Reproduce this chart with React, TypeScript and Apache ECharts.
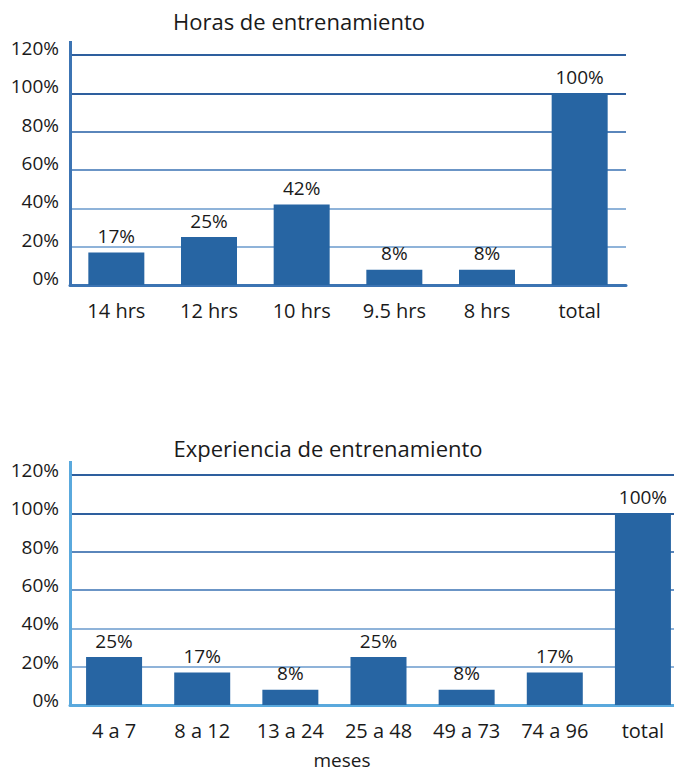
import React, { useEffect, useRef } from "react";
import * as echarts from "echarts";

const hoursTitle = "Horas de entrenamiento";
const hoursCategories = ["14 hrs", "12 hrs", "10 hrs", "9.5 hrs", "8 hrs", "total"];
const hoursValues = [17, 25, 42, 8, 8, 100];

const experienceTitle = "Experiencia de entrenamiento";
const experienceCategories = ["4 a 7", "8 a 12", "13 a 24", "25 a 48", "49 a 73", "74 a 96", "total"];
const experienceValues = [25, 17, 8, 25, 8, 17, 100];
const experienceAxisName = "meses";

const yMin = 0;
const yMax = 120;
const yInterval = 20;

const FONT = "Open Sans";
const TEXT = "#1a1a1a";
const BAR = "#2765a3";
const GRID_COLORS = ["#8fb3d9", "#8fb3d9", "#8fb3d9", "#6b95c6", "#5a86bb", "#2e5f9e", "#2e5f9e"];

export default function App() {
  const ref = useRef<HTMLDivElement>(null);

  useEffect(() => {
    if (!ref.current) return;
    const chart = echarts.init(ref.current, null, { renderer: "svg" });

    const yAxisCommon = (axisColor: string, shiftUp: number) => ({
      type: "value",
      min: yMin,
      max: yMax,
      interval: yInterval,
      axisLine: { show: true, lineStyle: { color: axisColor, width: 3 } },
      axisTick: { show: false },
      axisLabel: {
        formatter: "{value}%",
        fontFamily: FONT,
        fontSize: 19,
        color: TEXT,
        margin: 11,
        verticalAlign: "bottom",
        lineHeight: shiftUp * 2,
      },
      splitLine: { show: true, lineStyle: { color: GRID_COLORS, width: 2 } },
    });

    const barLabel = {
      show: true,
      position: "top",
      distance: 7,
      formatter: "{c}%",
      fontFamily: FONT,
      fontSize: 19,
      color: TEXT,
    };

    chart.setOption({
      animation: false,
      textStyle: { fontFamily: FONT },
      title: [
        {
          text: hoursTitle,
          left: 294,
          top: 5,
          textAlign: "center",
          textStyle: { fontFamily: FONT, fontSize: 22, fontWeight: "normal", color: TEXT },
        },
        {
          text: experienceTitle,
          left: 323,
          top: 432,
          textAlign: "center",
          textStyle: { fontFamily: FONT, fontSize: 22, fontWeight: "normal", color: TEXT },
        },
      ],
      grid: [
        { left: 70, width: 556, top: 55, height: 230, outerBoundsMode: "none" },
        { left: 70, width: 617, top: 475, height: 230, outerBoundsMode: "none" },
      ],
      xAxis: [
        {
          gridIndex: 0,
          type: "category",
          data: hoursCategories,
          axisLine: { show: true, lineStyle: { color: "#3c74b3", width: 3 } },
          axisTick: { show: false },
          axisLabel: { fontFamily: FONT, fontSize: 20, color: TEXT, margin: 15, interval: 0 },
        },
        {
          gridIndex: 1,
          type: "category",
          data: experienceCategories,
          name: experienceAxisName,
          nameLocation: "middle",
          nameGap: 45,
          nameTextStyle: {
            fontFamily: FONT,
            fontSize: 19,
            lineHeight: 20,
            color: TEXT,
            padding: [0, 73, 0, 0],
          },
          axisLine: { show: true, lineStyle: { color: "#5aa9dd", width: 3 } },
          axisTick: { show: false },
          axisLabel: { fontFamily: FONT, fontSize: 20, color: TEXT, margin: 15, interval: 0 },
        },
      ],
      yAxis: [
        { gridIndex: 0, ...yAxisCommon("#3c74b3", 7) },
        { gridIndex: 1, ...yAxisCommon("#5aa9dd", 5) },
      ],
      graphic: [
        { type: "line", shape: { x1: 70.5, y1: 41, x2: 70.5, y2: 56 }, style: { stroke: "#3c74b3", lineWidth: 3 } },
        { type: "line", shape: { x1: 70.5, y1: 461, x2: 70.5, y2: 476 }, style: { stroke: "#5aa9dd", lineWidth: 3 } },
      ],
      series: [
        {
          type: "bar",
          xAxisIndex: 0,
          yAxisIndex: 0,
          data: hoursValues,
          barWidth: 56,
          itemStyle: { color: BAR },
          label: barLabel,
          z: 3,
        },
        {
          type: "bar",
          xAxisIndex: 1,
          yAxisIndex: 1,
          data: experienceValues,
          barWidth: 56,
          itemStyle: { color: BAR },
          label: barLabel,
          z: 3,
        },
      ],
    });

    return () => chart.dispose();
  }, []);

  return (
    <div
      ref={ref}
      style={{ position: "fixed", left: 0, top: 0, width: 674, height: 775, background: "#ffffff" }}
    />
  );
}
